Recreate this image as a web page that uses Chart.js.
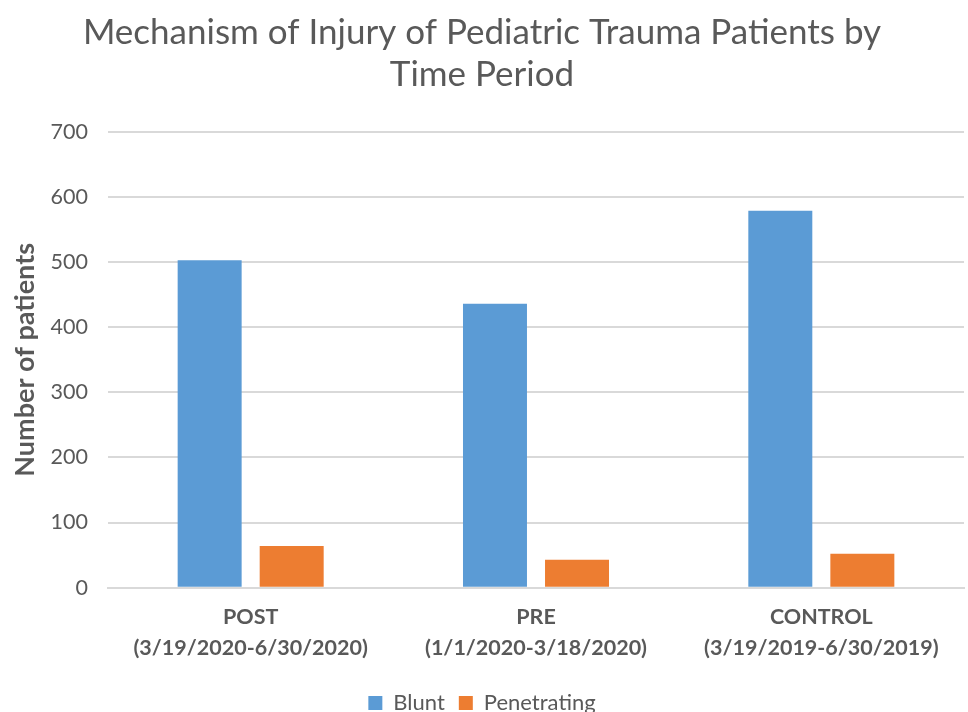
<!DOCTYPE html>
<html><head><meta charset="utf-8">
<script src="https://cdn.jsdelivr.net/npm/chart.js@4"></script>
<style>html,body{margin:0;padding:0;background:#fff}#wrap{width:968px;height:712px}</style>
</head><body><div id="wrap"><canvas id="c" width="968" height="712"></canvas></div>
<script>
const categories = [["POST","(3/19/2020-6/30/2020)"],["PRE","(1/1/2020-3/18/2020)"],["CONTROL","(3/19/2019-6/30/2019)"]];
const blunt = [503, 436, 579];
const penetrating = [64, 43, 52];
const seriesNames = ["Blunt","Penetrating"];
const titleLines = ["Mechanism of Injury of Pediatric Trauma Patients by","Time Period"];
const yTitle = "Number of patients";

const FONT = "Lato, 'Open Sans', sans-serif";
const grey = "#595959";
new Chart(document.getElementById('c'), {
  type: 'bar',
  data: {
    labels: categories,
    datasets: [
      {label: seriesNames[0], data: blunt, backgroundColor: '#5B9BD5'},
      {label: seriesNames[1], data: penetrating, backgroundColor: '#ED7D31'}
    ]
  },
  options: {
    responsive: false,
    animation: false,
    categoryPercentage: 0.575,
    barPercentage: 0.78,
    layout: {padding: {left: 0, right: 4, top: 12, bottom: -12}},
    plugins: {
      title: {display: true, text: titleLines, color: grey,
        font: {family: FONT, size: 35, weight: 'normal'}, padding: {top: 0, bottom: 36}, lineHeight: 1.22},
      legend: {position: 'bottom', labels: {color: grey, font: {family: FONT, size: 22},
        boxWidth: 14, boxHeight: 14, padding: 14}},
      tooltip: {enabled: false}
    },
    scales: {
      x: {
        grid: {display: false, drawTicks: false},
        border: {display: true, color: '#d9d9d9', width: 2},
        ticks: {color: grey, font: {family: FONT, size: 21.5, weight: 'bold', lineHeight: 1.45}, padding: 14, maxRotation: 0}
      },
      y: {
        min: 0, max: 700,
        afterFit: (axis) => { axis.width = 108; },
        ticks: {stepSize: 100, color: grey, font: {family: FONT, size: 21.5}, padding: 20},
        grid: {color: '#d9d9d9', lineWidth: 2, drawTicks: false},
        border: {display: false},
        title: {display: true, text: yTitle, color: grey, font: {family: FONT, size: 27, weight: 'bold'}, padding: {top: 9, bottom: 0}}
      }
    }
  }
});
</script></body></html>
